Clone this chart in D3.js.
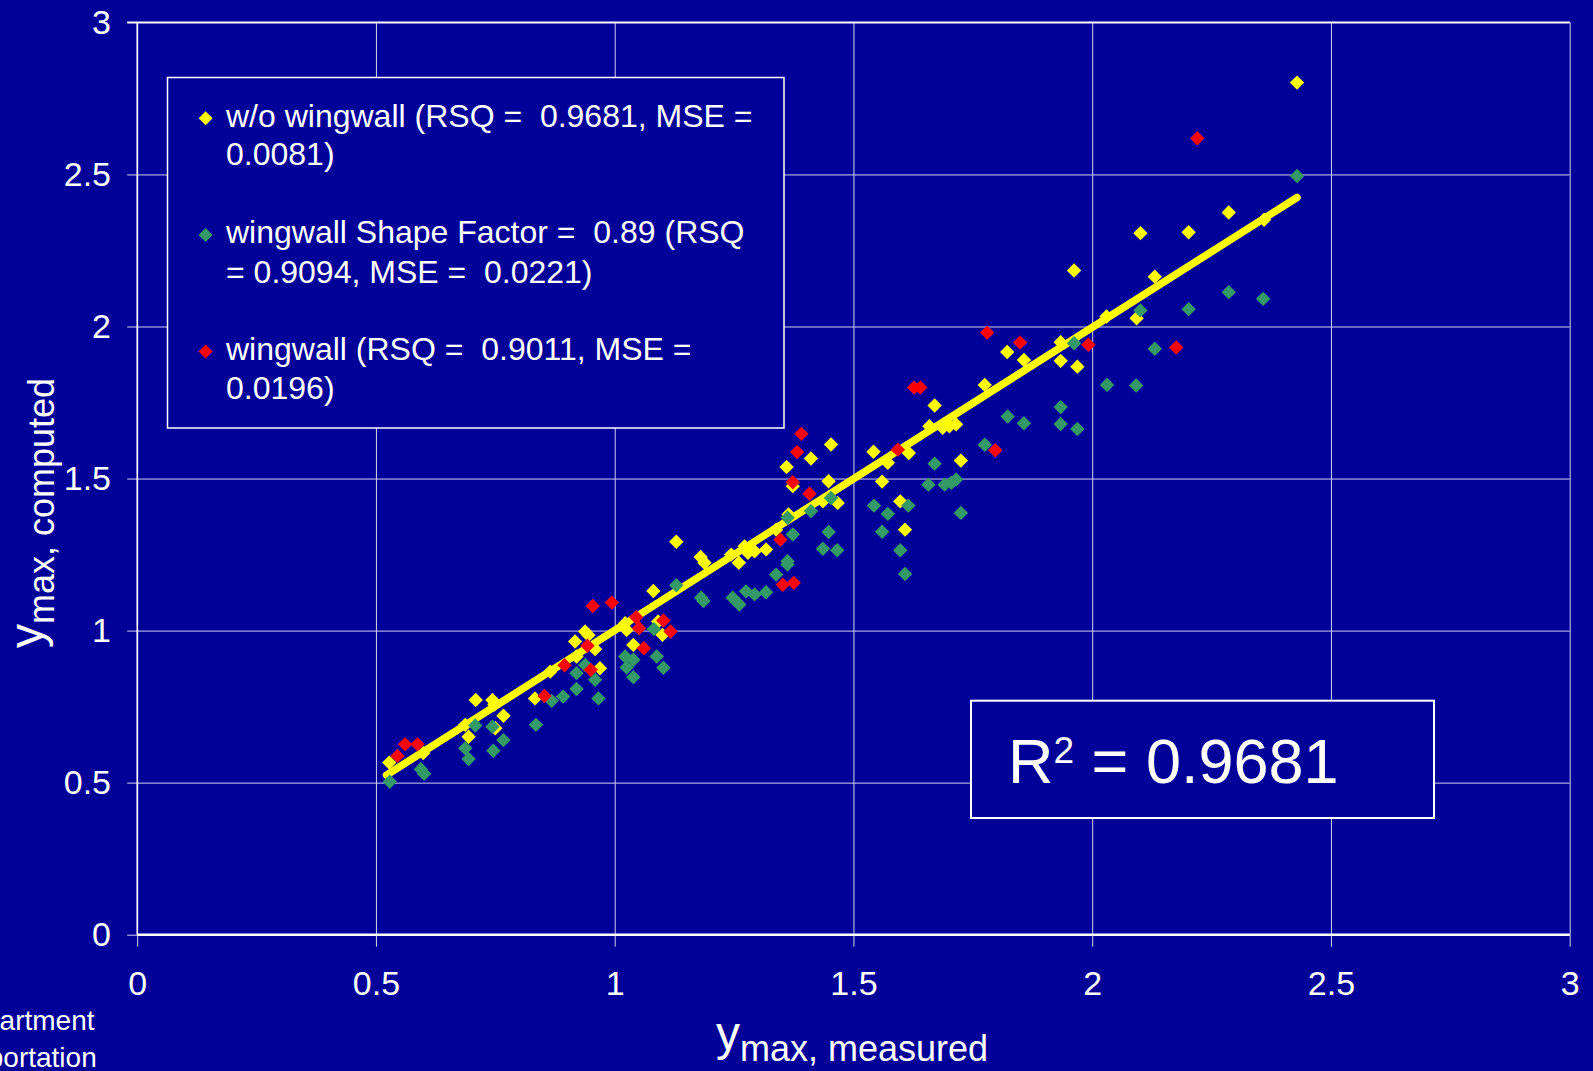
<!DOCTYPE html>
<html><head><meta charset="utf-8">
<script src="https://cdn.jsdelivr.net/npm/d3@7"></script>
<style>
html,body{margin:0;padding:0;background:#000099;overflow:hidden}
svg{display:block}
text{font-family:"Liberation Sans",Arial,Helvetica,sans-serif;fill:#ffffff;white-space:pre}
</style></head><body>
<svg id="chart" width="1593" height="1071"></svg>
<script>
// ---- data ----
const xTicks = [0, 0.5, 1, 1.5, 2, 2.5, 3];
const yTicks = [0, 0.5, 1, 1.5, 2, 2.5, 3];
const xTickLabels = ["0", "0.5", "1", "1.5", "2", "2.5", "3"];
const yTickLabels = ["0", "0.5", "1", "1.5", "2", "2.5", "3"];

// w/o wingwall (yellow)
const woX = [0.528,0.599,0.687,0.694,0.709,0.744,0.750,0.748,0.767,0.833,0.865,0.917,0.938,0.945,0.959,0.920,0.969,1.022,1.025,1.039,1.081,1.091,1.100,1.129,1.180,1.188,1.244,1.260,1.272,1.279,1.293,1.317,1.338,1.364,1.360,1.373,1.411,1.453,1.448,1.436,1.467,1.542,1.572,1.616,1.560,1.598,1.608,1.670,1.659,1.687,1.701,1.715,1.725,1.775,1.822,1.857,1.934,1.934,1.962,1.969,2.030,2.093,2.101,2.131,2.202,2.286,2.360,2.429];
const woY = [0.566,0.597,0.690,0.651,0.772,0.772,0.679,0.757,0.720,0.777,0.865,0.964,0.997,0.985,0.939,0.915,0.876,1.024,1.002,0.953,1.130,1.030,0.986,1.292,1.242,1.223,1.250,1.223,1.277,1.256,1.261,1.267,1.332,1.382,1.538,1.475,1.566,1.612,1.491,1.425,1.420,1.588,1.552,1.584,1.490,1.425,1.332,1.740,1.672,1.667,1.672,1.678,1.559,1.808,1.916,1.890,1.948,1.887,2.184,1.868,2.033,2.027,2.307,2.164,2.310,2.375,2.351,2.802];

// wingwall Shape Factor = 0.89 (green)
const sfX = [0.529,0.594,0.601,0.687,0.694,0.708,0.744,0.746,0.767,0.835,0.868,0.892,0.920,0.920,0.938,0.959,0.966,1.022,1.039,1.025,1.039,1.088,1.102,1.082,1.129,1.181,1.186,1.247,1.261,1.275,1.293,1.317,1.338,1.362,1.362,1.373,1.362,1.411,1.453,1.448,1.436,1.466,1.543,1.572,1.615,1.560,1.598,1.608,1.657,1.670,1.691,1.705,1.715,1.725,1.775,1.823,1.857,1.934,1.934,1.969,1.962,2.031,2.092,2.101,2.131,2.202,2.286,2.358,2.429];
const sfY = [0.503,0.544,0.529,0.613,0.578,0.688,0.684,0.605,0.640,0.690,0.769,0.783,0.808,0.860,0.887,0.838,0.777,0.915,0.904,0.879,0.847,0.915,0.878,1.005,1.149,1.108,1.097,1.108,1.086,1.129,1.119,1.126,1.184,1.217,1.228,1.316,1.371,1.393,1.436,1.324,1.269,1.264,1.411,1.384,1.411,1.325,1.264,1.186,1.480,1.549,1.480,1.486,1.497,1.387,1.611,1.704,1.682,1.735,1.679,1.663,1.945,1.808,1.806,2.053,1.927,2.057,2.113,2.091,2.495];

// wingwall (red)
const wwX = [0.545,0.561,0.587,0.853,0.895,0.943,0.950,0.954,0.994,1.045,1.051,1.061,1.102,1.117,1.352,1.375,1.347,1.373,1.408,1.382,1.391,1.593,1.627,1.640,1.780,1.797,1.849,1.992,2.176,2.220];
const wwY = [0.588,0.626,0.626,0.785,0.886,0.950,0.871,1.081,1.092,1.044,1.008,0.942,1.033,0.997,1.151,1.157,1.299,1.488,1.450,1.587,1.647,1.595,1.799,1.799,1.980,1.593,1.947,1.940,1.931,2.619];

// linear trendline of w/o wingwall series
const trendSlope = 0.996;
const trendIntercept = 0.005;
const trendXRange = [0.522, 2.429];

const seriesNames = ["w/o wingwall", "wingwall Shape Factor", "wingwall"];
const seriesColors = ["#FFFF00", "#339966", "#FF0000"];
const legendLines = [
  ["w/o wingwall (RSQ =  0.9681, MSE =", "0.0081)"],
  ["wingwall Shape Factor =  0.89 (RSQ", "= 0.9094, MSE =  0.0221)"],
  ["wingwall (RSQ =  0.9011, MSE =", "0.0196)"]
];
const rsqLabel = "0.9681";

// ---- drawing ----
const W = 1593, H = 1071;
const FONT = '"Liberation Sans",Arial,sans-serif';
const svg = d3.select("#chart");
svg.append("rect").attr("width", W).attr("height", H).attr("fill", "#000099");

const x = d3.scaleLinear().domain([0, 3]).range([137.2, 1569.7]);
const y = d3.scaleLinear().domain([0, 3]).range([934.7, 22.4]);
const plotW = x(3) - x(0), plotH = y(0) - y(3);

// x axis + vertical gridlines
const gx = svg.append("g").attr("transform", `translate(0,${y(0)})`)
  .call(d3.axisBottom(x).tickValues(xTicks).tickFormat((d, i) => xTickLabels[i]).tickSize(0));
gx.select(".domain").remove();
gx.selectAll(".tick line").attr("y1", 12).attr("y2", -plotH).attr("stroke", "#d0d0ee").attr("stroke-width", 1);
gx.selectAll(".tick text").attr("y", 60).attr("dy", 0).attr("font-size", 34).attr("fill", "#fff")
  .style("font-family", FONT);

// y axis + horizontal gridlines
const gy = svg.append("g").attr("transform", `translate(${x(0)},0)`)
  .call(d3.axisLeft(y).tickValues(yTicks).tickFormat((d, i) => yTickLabels[i]).tickSize(0));
gy.select(".domain").remove();
gy.selectAll(".tick line").attr("x1", -10).attr("x2", plotW).attr("stroke", "#d0d0ee").attr("stroke-width", 1);
gy.selectAll(".tick text").attr("x", 111 - x(0)).attr("dy", "0.33em").attr("text-anchor", "end")
  .attr("font-size", 34).attr("fill", "#fff").style("font-family", FONT);

// axis lines / border
svg.append("line").attr("x1", x(0)).attr("x2", x(3)).attr("y1", y(0)).attr("y2", y(0))
  .attr("stroke", "#fff").attr("stroke-width", 2.5);
svg.append("line").attr("x1", x(0)).attr("x2", x(0)).attr("y1", y(3)).attr("y2", y(0))
  .attr("stroke", "#fff").attr("stroke-width", 1.5);
svg.append("line").attr("x1", x(0) - 10).attr("x2", x(3)).attr("y1", y(3)).attr("y2", y(3))
  .attr("stroke", "#fff").attr("stroke-width", 1.8);

const diamond = r => `M0,${-r}L${r},0L0,${r}L${-r},0Z`;
function drawSeries(xs, ys, color) {
  svg.append("g").selectAll("path").data(xs.map((v, i) => [v, ys[i]])).join("path")
    .attr("d", diamond(7.2))
    .attr("transform", d => `translate(${x(d[0])},${y(d[1])})`)
    .attr("fill", color);
}
drawSeries(woX, woY, seriesColors[0]);
// trendline
svg.append("line")
  .attr("x1", x(trendXRange[0])).attr("y1", y(trendSlope * trendXRange[0] + trendIntercept))
  .attr("x2", x(trendXRange[1])).attr("y2", y(trendSlope * trendXRange[1] + trendIntercept))
  .attr("stroke", seriesColors[0]).attr("stroke-width", 7.5).attr("stroke-linecap", "round");
drawSeries(sfX, sfY, seriesColors[1]);
drawSeries(wwX, wwY, seriesColors[2]);

// legend
const lg = svg.append("g");
lg.append("rect").attr("x", 167.5).attr("y", 77.5).attr("width", 616.5).attr("height", 350.5)
  .attr("fill", "#000099").attr("stroke", "#fff").attr("stroke-width", 1.5);
const lineBase = [[126.7, 165], [243.3, 282.7], [360, 399.3]];
legendLines.forEach((lines, i) => {
  lg.append("path").attr("d", diamond(7)).attr("fill", seriesColors[i])
    .attr("transform", `translate(205.6,${lineBase[i][0] - 8.4})`);
  lines.forEach((t, j) => {
    lg.append("text").attr("x", 226).attr("y", lineBase[i][j]).attr("font-size", 32).text(t);
  });
});

// R^2 box
const rg = svg.append("g");
rg.append("rect").attr("x", 971).attr("y", 700.7).attr("width", 463).attr("height", 117.3)
  .attr("fill", "#000099").attr("stroke", "#fff").attr("stroke-width", 2);
const rt = rg.append("text").attr("x", 1008).attr("y", 783).attr("font-size", 63);
rt.append("tspan").text("R");
rt.append("tspan").attr("font-size", 37).attr("dy", -20).text("2");
rt.append("tspan").attr("dy", 20).text(" = " + rsqLabel);

// axis titles
const xt = svg.append("text").attr("x", 716).attr("y", 1050).attr("font-size", 48);
xt.append("tspan").text("y");
xt.append("tspan").attr("font-size", 36).attr("dy", 11).text("max, measured");

const yt = svg.append("text").attr("transform", "translate(43,648) rotate(-90)").attr("font-size", 48);
yt.append("tspan").text("y");
yt.append("tspan").attr("font-size", 36).attr("dy", 11).text("max, computed");

// footer text at bottom left, cut off by the page edge as in the original slide
svg.append("text").attr("x", 94.5).attr("y", 1030).attr("text-anchor", "end").attr("font-size", 28).text("Department");
svg.append("text").attr("x", 96.7).attr("y", 1067).attr("text-anchor", "end").attr("font-size", 28).text("Transportation");
</script>
</body></html>
